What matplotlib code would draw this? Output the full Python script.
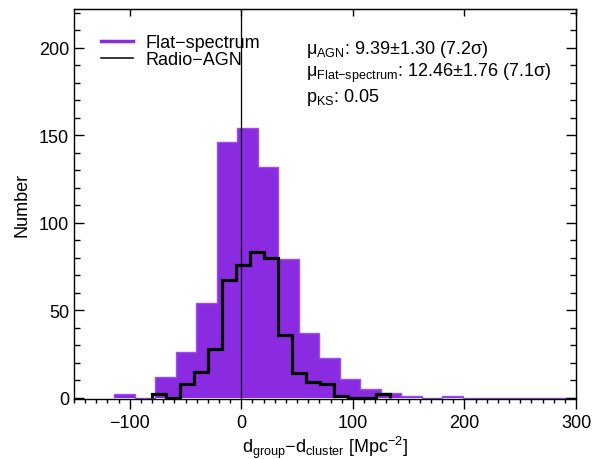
import matplotlib
matplotlib.use("Agg")
import matplotlib.pyplot as plt
import numpy as np
from matplotlib.lines import Line2D
from matplotlib.ticker import MultipleLocator

plt.rcParams['font.family'] = ['Liberation Sans', 'DejaVu Sans']
plt.rcParams['mathtext.fontset'] = 'custom'
plt.rcParams['mathtext.rm'] = 'Liberation Sans'
plt.rcParams['mathtext.it'] = 'Liberation Sans:italic'
plt.rcParams['mathtext.sf'] = 'Liberation Sans'

# flat-spectrum histogram (filled), bins
flat_start = -114.0
flat_width = 18.38
flat_counts = [2, 0, 12, 26, 54, 146, 154, 132, 79, 37, 23, 11, 5, 3, 1, 0, 1,
               0, 0, 0, 0, 0, 0]

# radio-AGN histogram (black steps)
agn_start = -80.5
agn_width = 12.6
agn_counts = [2, 0, 8, 15, 28, 67, 76, 83, 80, 36, 14, 9, 8, 1, 0, 0, 2]

labels = ["Flat\u2212spectrum", "Radio\u2212AGN"]
stats = ["\u03bc$_{\\text{AGN}}$: 9.39\u00b11.30 (7.2\u03c3)",
         "\u03bc$_{\\text{Flat\u2212spectrum}}$: 12.46\u00b11.76 (7.1\u03c3)",
         "p$_{\\text{KS}}$: 0.05"]

purple = '#8a2be2'

flat_edges = flat_start + flat_width * np.arange(len(flat_counts) + 1)
agn_edges = agn_start + agn_width * np.arange(len(agn_counts) + 1)

fig = plt.figure(figsize=(5.92, 4.6), dpi=100)
ax = fig.add_axes([0.125, 0.130, 0.848, 0.848])

ax.stairs(flat_counts, flat_edges, fill=True, color=purple, lw=0)
ax.stairs(flat_counts, flat_edges, color='#9a50ea', lw=1.0)
ax.axvline(0, color='k', lw=0.9)
ax.stairs(agn_counts, agn_edges, color='k', lw=2.3)

ax.set_xlim(-150, 300)
ax.set_ylim(-0.8, 222)

ax.xaxis.set_major_locator(MultipleLocator(100))
ax.xaxis.set_minor_locator(MultipleLocator(10))
ax.yaxis.set_major_locator(MultipleLocator(50))
ax.yaxis.set_minor_locator(MultipleLocator(10))

ax.tick_params(axis='x', which='both', direction='out', top=False, labelsize=13)
ax.tick_params(axis='x', which='major', length=7, width=1)
ax.tick_params(axis='x', which='minor', length=3, width=1)
ax.tick_params(axis='y', which='both', direction='in', left=True, right=True, labelsize=13)
ax.tick_params(axis='y', which='major', length=7, width=1)
ax.tick_params(axis='y', which='minor', length=4, width=1)

top = ax.secondary_xaxis('top')
top.xaxis.set_major_locator(MultipleLocator(100))
top.tick_params(direction='in', length=5, width=1, labeltop=False)
top.xaxis.set_minor_locator(plt.NullLocator())

for s in ax.spines.values():
    s.set_linewidth(1)

ax.set_xlabel("d$_{\\text{group}}$\u2212d$_{\\text{cluster}}$ [Mpc$^{\\text{\u22122}}$]", fontsize=13, labelpad=2)
ax.set_ylabel("Number", fontsize=13, labelpad=6)

handles = [Line2D([], [], color=purple, lw=2.5),
           Line2D([], [], color='k', lw=1.1)]
ax.legend(handles, labels, loc='upper left', bbox_to_anchor=(0.04, 0.955),
          frameon=False, fontsize=13, handlelength=1.75, handletextpad=0.7,
          labelspacing=0.0, borderaxespad=0)

ys = [0.9, 0.838, 0.775]
for s, y in zip(stats, ys):
    ax.text(0.463, y, s, transform=ax.transAxes, fontsize=13, va='center')

fig.savefig("out.png", dpi=100)
